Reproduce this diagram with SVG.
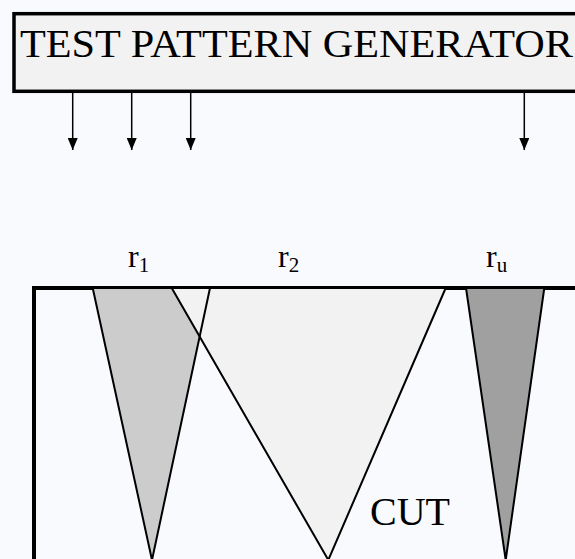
<svg xmlns="http://www.w3.org/2000/svg" width="575" height="559" viewBox="0 0 575 559">
<defs>
<style>
.lbl{font-family:"Liberation Serif","Times New Roman",serif;fill:#000}
.edge{stroke:#000;stroke-width:1.5;fill:none}
.tri{stroke:#000;stroke-width:2;stroke-linejoin:round}
</style>
<marker id="ah" markerUnits="userSpaceOnUse" markerWidth="12" markerHeight="10" refX="12" refY="5" orient="auto">
<path d="M0,0 L12,5 L0,10 Z" fill="#000"/>
</marker>
</defs>
<rect x="0" y="0" width="575" height="559" fill="#F8FAFE"/>
<g id="tpg">
<rect x="14" y="13.7" width="600" height="77.6" fill="#F2F2F2" stroke="#000" stroke-width="3.5"/>
<text class="lbl" x="20" y="56.5" font-size="41" textLength="553" lengthAdjust="spacingAndGlyphs">TEST PATTERN GENERATOR</text>
</g>
<g id="connectors">
<line class="edge" x1="72.7" y1="93" x2="72.7" y2="150" marker-end="url(#ah)"/>
<line class="edge" x1="131.7" y1="93" x2="131.7" y2="150" marker-end="url(#ah)"/>
<line class="edge" x1="190.7" y1="93" x2="190.7" y2="150" marker-end="url(#ah)"/>
<line class="edge" x1="524.3" y1="93" x2="524.3" y2="150" marker-end="url(#ah)"/>
</g>
<g id="cut">
<rect x="34" y="288" width="600" height="400" fill="none" stroke="#000" stroke-width="4"/>
<text class="lbl" x="370" y="525" font-size="40">CUT</text>
</g>
<g id="r1">
<polygon points="92.7,288 210,288 152,560" fill="#CCCCCC"/>
<text class="lbl" x="128" y="266.7" font-size="32">r<tspan font-size="21" dy="5.6">1</tspan></text>
</g>
<g id="r2">
<polygon class="tri" points="171.7,288 445.7,288 328.3,560" fill="#F2F2F2"/>
<text class="lbl" x="278" y="266.7" font-size="32">r<tspan font-size="21" dy="5.6">2</tspan></text>
</g>
<polygon class="tri" points="92.7,288 210,288 152,560" fill="none"/>
<g id="ru">
<polygon class="tri" points="466,288 544.3,288 505.7,560" fill="#A0A0A0"/>
<text class="lbl" x="486" y="266.7" font-size="32">r<tspan font-size="21" dy="5.6">u</tspan></text>
</g>
</svg>
